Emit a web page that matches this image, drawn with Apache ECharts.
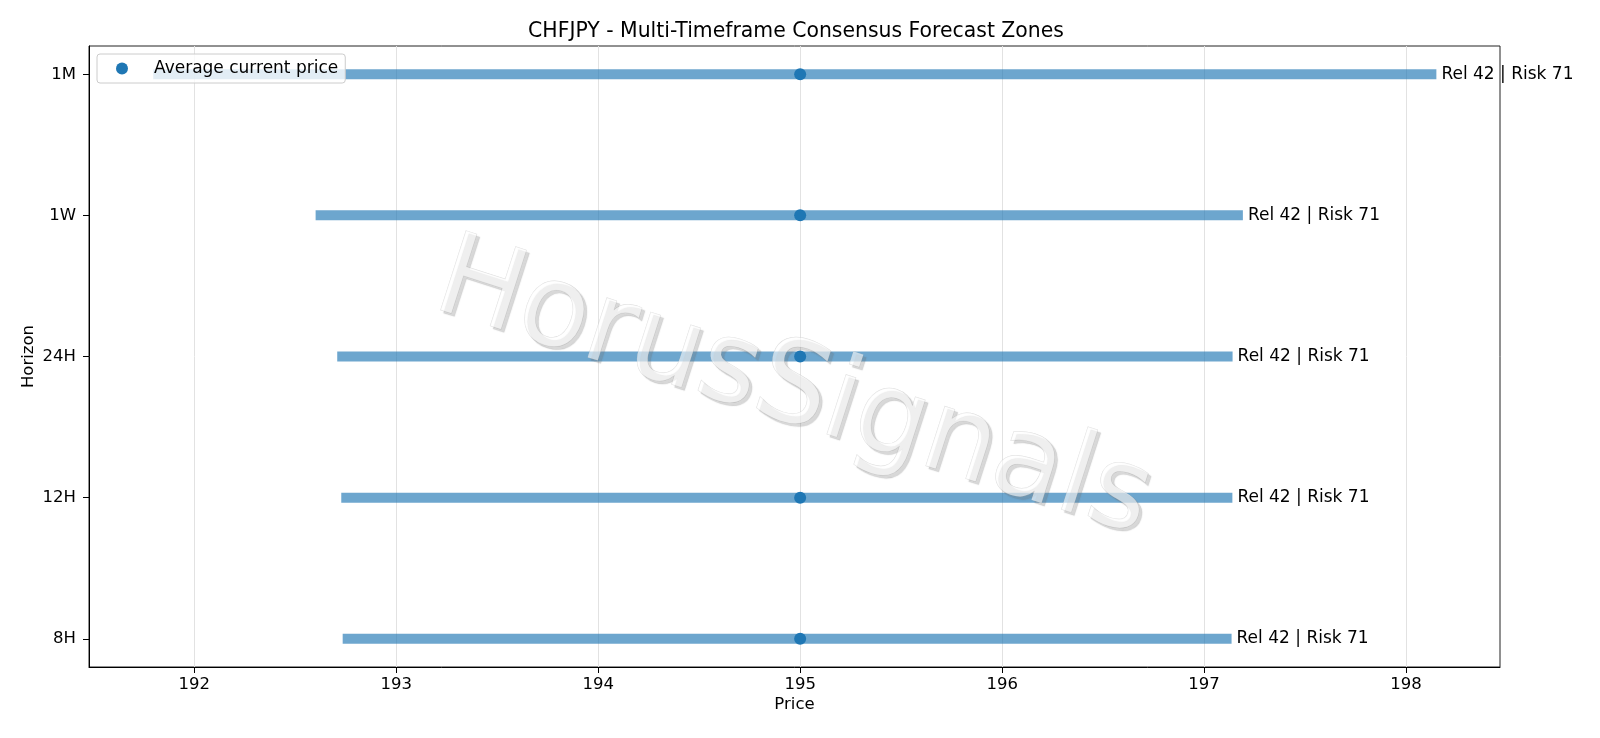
<!DOCTYPE html>
<html><head><meta charset="utf-8">
<script src="https://cdn.jsdelivr.net/npm/echarts@6/dist/echarts.min.js"></script>
<style>html,body{margin:0;padding:0;background:#fff}#c{width:1600px;height:738px}</style>
</head><body><div id="c"></div>
<script>
const horizons = ['8H', '12H', '24H', '1W', '1M'];
const zoneLow = [192.735, 192.728, 192.708, 192.601, 191.797];
const zoneHigh = [197.136, 197.140, 197.141, 197.192, 198.150];
const currentPrice = [195.0, 195.0, 195.0, 195.0, 195.0];
const reliability = [42, 42, 42, 42, 42];
const riskScore = [71, 71, 71, 71, 71];
const priceTicks = [192, 193, 194, 195, 196, 197, 198];
const horizonTicks = [0, 1, 2, 3, 4];

const FONT = 'DejaVu Sans';
const labels = horizons.map((h, i) => 'Rel ' + reliability[i] + ' | Risk ' + riskScore[i]);
const zoneData = horizons.map((h, i) => [zoneLow[i], zoneHigh[i], i]);
const pointData = horizons.map((h, i) => [currentPrice[i], i]);

const watermark = {
  type: 'text', id: 'wm', x: 793, y: 392, rotation: -17.8 * Math.PI / 180, z: 100, silent: true,
  style: {
    text: 'HorusSignals', fontFamily: FONT, fontSize: 114,
    fill: 'rgba(255,255,255,0.6)', stroke: 'rgba(185,185,185,0.5)', lineWidth: 0.7,
    align: 'center', verticalAlign: 'middle',
    textShadowColor: 'rgba(110,110,110,0.45)', textShadowOffsetX: 3, textShadowOffsetY: 3, textShadowBlur: 1
  }
};

const chart = echarts.init(document.getElementById('c'), null, {renderer: 'canvas'});
chart.setOption({
  animation: false,
  backgroundColor: '#fff',
  textStyle: {fontFamily: FONT, color: '#000'},
  title: {
    text: 'CHFJPY - Multi-Timeframe Consensus Forecast Zones',
    left: 791, top: 17, textAlign: 'center',
    textStyle: {fontFamily: FONT, fontSize: 20.4, fontWeight: 'normal', color: '#000'}
  },
  grid: {left: 89, right: 100, top: 46, bottom: 71, show: true, borderColor: '#222', borderWidth: 1, backgroundColor: 'transparent'},
  legend: {
    data: ['Average current price'], left: 97, top: 54, orient: 'vertical',
    padding: [6, 7, 6, 19], itemWidth: 40, itemHeight: 12, itemGap: 0, icon: 'circle',
    backgroundColor: 'rgba(255,255,255,0.8)', borderColor: '#cccccc', borderWidth: 1, borderRadius: 3,
    textStyle: {fontFamily: FONT, fontSize: 17, color: '#000', lineHeight: 17, padding: [0, 0, 0, 7]}
  },
  xAxis: {
    type: 'value', min: 191.479, max: 198.465,
    name: 'Price', nameLocation: 'middle', nameGap: 29, nameMoveOverlap: false,
    nameTextStyle: {fontFamily: FONT, fontSize: 16.5, color: '#000'},
    axisLine: {show: true, onZero: false, lineStyle: {color: '#000', width: 1}},
    axisTick: {show: true, length: 6, customValues: priceTicks, lineStyle: {color: '#000'}},
    axisLabel: {customValues: priceTicks, margin: 9, fontFamily: FONT, fontSize: 16.5, color: '#000', formatter: v => String(v)},
    splitLine: {show: true, customValues: priceTicks, lineStyle: {color: '#e2e2e2', width: 1}}
  },
  yAxis: {
    type: 'value', min: -0.2, max: 4.2,
    name: 'Horizon', nameLocation: 'middle', nameGap: 52, nameMoveOverlap: false,
    nameTextStyle: {fontFamily: FONT, fontSize: 16.5, color: '#000'},
    axisLine: {show: true, onZero: false, lineStyle: {color: '#000', width: 1}},
    axisTick: {show: true, length: 6, customValues: horizonTicks, lineStyle: {color: '#000'}},
    axisLabel: {customValues: horizonTicks, margin: 13, fontFamily: FONT, fontSize: 16.5, color: '#000',
      formatter: v => horizons[Math.round(v)] || ''},
    splitLine: {show: false}
  },
  series: [
    {
      type: 'custom', name: 'zones', z: 2, clip: false,
      data: zoneData,
      encode: {x: [0, 1], y: 2},
      renderItem: function (params, api) {
        const i = api.value(2);
        const p0 = api.coord([api.value(0), i]);
        const p1 = api.coord([api.value(1), i]);
        const h = 10;
        return {
          type: 'rect', shape: {x: p0[0], y: p0[1] - h / 2, width: p1[0] - p0[0], height: h},
          style: {fill: 'rgba(31,119,180,0.65)'}
        };
      }
    },
    {
      type: 'scatter', name: 'Average current price', z: 5,
      data: pointData, symbol: 'circle', symbolSize: 12,
      itemStyle: {color: '#1f77b4', opacity: 1}
    }
  ],
  graphic: [watermark]
});

// zone annotations placed at the end of each zone through the chart's own scales
const labelGraphics = horizons.map((h, i) => {
  const p = chart.convertToPixel({gridIndex: 0}, [zoneHigh[i], i]);
  return {
    type: 'text', id: 'lbl' + i, x: p[0] + 5, y: p[1], z: 10, silent: true,
    style: {text: labels[i], fontFamily: FONT, fontSize: 17, fill: '#000', align: 'left', verticalAlign: 'middle'}
  };
});
chart.setOption({graphic: [watermark].concat(labelGraphics)});
</script>
</body></html>
